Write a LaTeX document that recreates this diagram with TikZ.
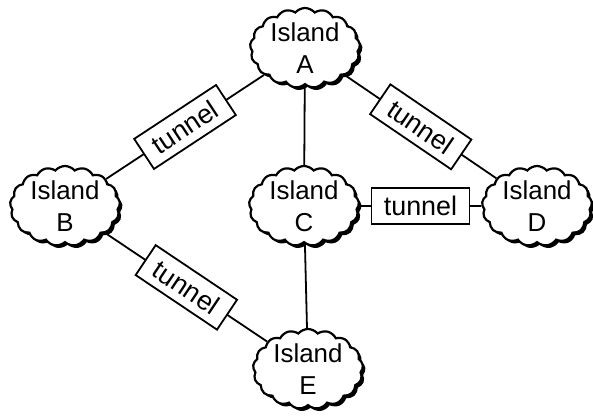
\documentclass[tikz,border=0pt]{standalone}
\usepackage{fontspec}
\setmainfont{Liberation Sans}
\usepackage{tikz}
\usetikzlibrary{shapes.symbols,shadows,positioning}

\begin{document}
\begin{tikzpicture}[thick, line width=0.9pt,
	island/.style={cloud, cloud puffs=17, cloud puff arc=100, cloud ignores aspect, draw, line width=1.1pt, fill=white, minimum width=55bp, minimum height=40bp, inner sep=0pt, align=center, font=\fontsize{13}{16}\selectfont, drop shadow={shadow xshift=1.3bp, shadow yshift=-1.3bp, fill=black, opacity=1}},
	tunnel/.style={draw, fill=white, line width=0.9pt, minimum width=49bp, minimum height=18bp, inner sep=0pt, font=\fontsize{13.5}{15}\selectfont}]
	\useasboundingbox (0bp, 0bp) rectangle (296.5bp, 209bp);

	\node ({isA}) at (152.5bp, 185bp) [island] {Island\\A};
	\node ({isB}) at (32.5bp, 106bp) [island] {Island\\B};
	\node ({isC}) at (152bp, 106bp) [island] {Island\\C};
	\node ({isD}) at (268.5bp, 106bp) [island] {Island\\D};
	\node ({isE}) at (154bp, 24.5bp) [island] {Island\\E};

	% plain links
	\draw (isA) -- (isC);
	\draw (isC) -- (isE);

	%tunnels
	\draw (isA) -- node ({tAB}) [tunnel, sloped] {tunnel} (isB);
	\draw (isA) -- node ({tAD}) [tunnel, sloped] {tunnel} (isD);
	\draw (isC) -- node ({tCD}) [tunnel] {tunnel} (isD);
	\draw (isB) -- node ({tBE}) [tunnel, sloped] {tunnel} (isE);
\end{tikzpicture}
\end{document}
